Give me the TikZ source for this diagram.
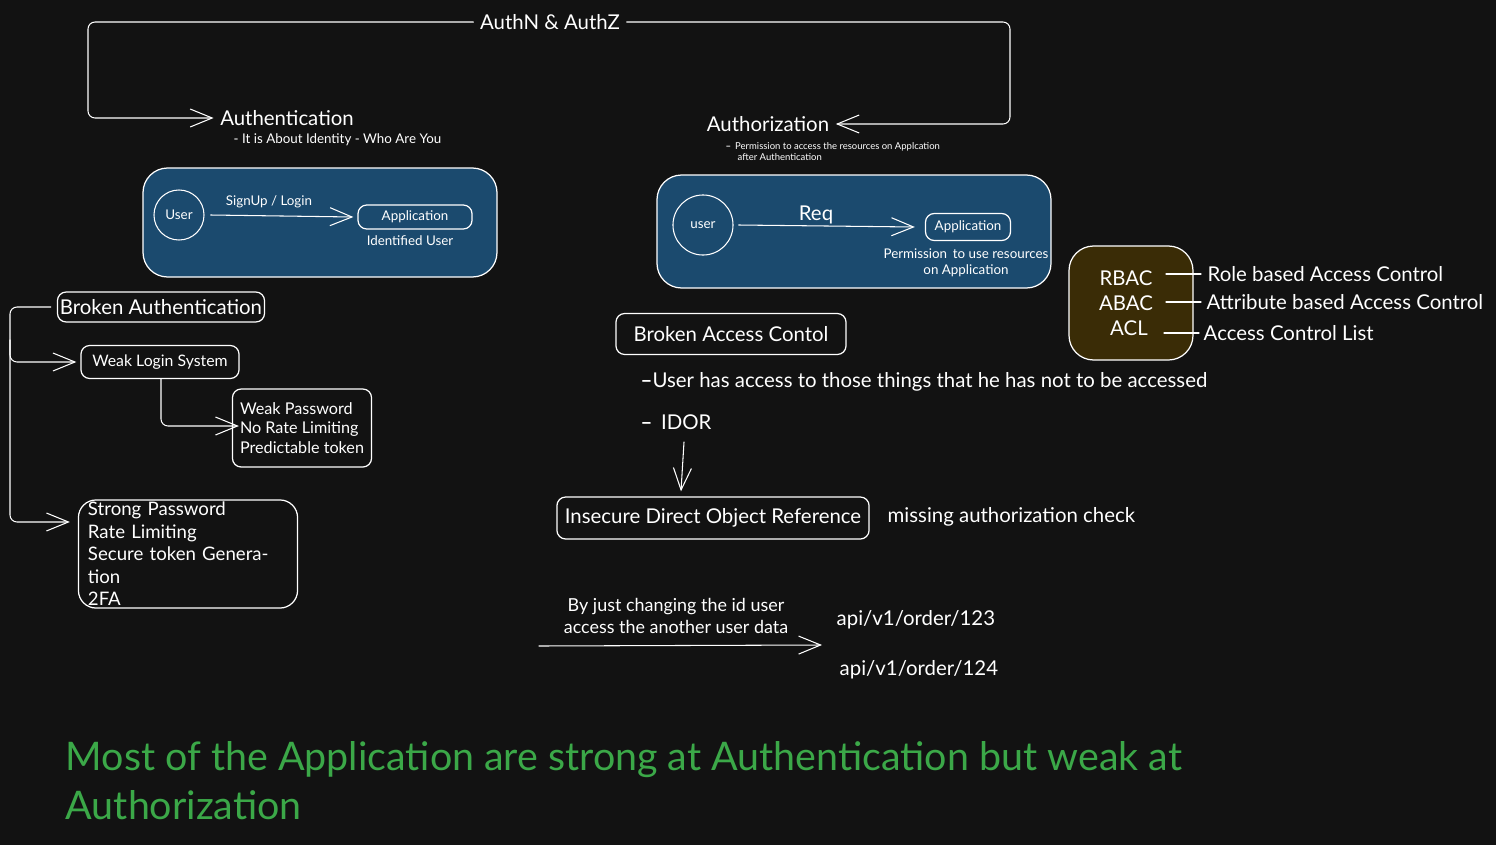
\documentclass[tikz,border=0pt]{standalone}
\usepackage{fontspec}
\setmainfont{Lato}
\usetikzlibrary{arrows.meta}
\definecolor{bg}{HTML}{121212}
\definecolor{bluebox}{HTML}{1B4A6E}
\definecolor{brownbox}{HTML}{3A2C06}
\definecolor{greentxt}{HTML}{3BA848}
\tikzset{
  txt/.style={text=white,inner sep=0pt,font=\fontsize{5.5pt}{6.6pt}\selectfont},
  big/.style={txt,font=\fontsize{5.8pt}{6.8pt}\selectfont},
  small/.style={txt,font=\fontsize{3.8pt}{4.7pt}\selectfont},
  tiny/.style={txt,font=\fontsize{2.7pt}{3.2pt}\selectfont},
  wbox/.style={draw=white,line width=0.35pt,rounded corners=2.5pt},
  wire/.style={draw=white,line width=0.3pt,rounded corners=2pt},
  arr/.style={wire,-{Straight Barb[length=2.2mm,width=1.8mm]}},
}
\begin{document}
\begin{tikzpicture}[x=0.01cm,y=-0.01cm,line cap=round,line join=round]
\fill[bg] (0,0) rectangle (1496,845);
\useasboundingbox (0,0) rectangle (1496,845);
% title and top bracket
\node[big] (authz) at (550,22) {AuthN \& AuthZ};
\node[big] (authn) at (287,118) {Authentication};
\node[small,anchor=west] at (233,140) {- It is About Identity - Who Are You};
\node[big] (autho) at (768,124) {Authorization};
\node[tiny,anchor=north west,align=left] at (725,142) {\textbf{–}\, Permission to access the resources on Applcation\\\hspace*{1.2mm}after Authentication};
\draw[arr] ([xshift=-0.6mm]authz.west) -- (88,22) -- (88,118) -- ([xshift=-0.6mm]authn.west);
\draw[arr] ([xshift=0.6mm]authz.east) -- (1010,22) -- (1010,124) -- ([xshift=0.6mm]autho.east);
% authentication panel
\draw[fill=bluebox,draw=white,line width=0.35pt,rounded corners=7pt] (143,168) rectangle (497,277);
\node[small,draw=white,line width=0.3pt,circle,minimum size=0.5cm] (user1) at (179,215) {User};
\node[small,wbox,minimum width=1.14cm,minimum height=0.24cm] (app1) at (415,217) {Application};
\draw[arr] ([xshift=0.6mm]user1.east) -- ([xshift=-0.4mm]app1.west);
\node[small] at (269,202) {SignUp / Login};
\node[small] at (410,241) {Identified User};
% authorization panel
\draw[fill=bluebox,draw=white,line width=0.35pt,rounded corners=7pt] (657,175) rectangle (1051,288);
\node[small,draw=white,line width=0.3pt,circle,minimum size=0.6cm] (user2) at (703,225) {user};
\node[small,wbox,minimum width=0.85cm,minimum height=0.27cm] (app2) at (968,227) {Application};
\draw[arr] ([xshift=0.5mm]user2.east) -- ([xshift=-1mm]app2.west);
\node[big] at (816,215) {Req};
\node[small,align=center] at (966,263) {Permission\, to use resources\\on Application};
% access control models
\draw[fill=brownbox,draw=white,line width=0.35pt,rounded corners=7pt] (1069,246) rectangle (1193,360);
\node[big] (rbac) at (1126,278) {RBAC};
\node[big] (abac) at (1126,303) {ABAC};
\node[big] (acl) at (1129,328) {ACL};
\node[big,anchor=west] (rbacl) at (1207,274) {Role based Access Control};
\node[big,anchor=west] (abacl) at (1206,302) {Attribute based Access Control};
\node[big,anchor=west] (acll) at (1203,333) {Access Control List};
\draw[wire] (1166,274) -- ([xshift=-0.6mm]rbacl.west);
\draw[wire] (1166,302) -- ([xshift=-0.5mm]abacl.west);
\draw[wire] (1164,333) -- ([xshift=-0.4mm]acll.west);
% broken authentication
\node[big,wbox,minimum width=2.07cm,minimum height=0.30cm] (brokenauth) at (161,307) {Broken Authentication};
\node[small,wbox,minimum width=1.58cm,minimum height=0.33cm,font=\fontsize{4.5pt}{5pt}\selectfont] (weaklogin) at (160,362) {Weak Login System};
\node[txt,wbox,minimum width=1.39cm,minimum height=0.78cm,align=left,font=\fontsize{4.6pt}{5.6pt}\selectfont] (weakpw) at (302,428) {Weak Password\\No Rate Limiting\\Predictable token};
\node[big,wbox,minimum width=2.19cm,minimum height=1.08cm,align=left,text width=2cm,rounded corners=5pt,font=\fontsize{5.3pt}{6.4pt}\selectfont] (strong) at (188,554) {Strong Password\\Rate Limiting\\Secure token Generation\\2FA};
\draw[arr] ([xshift=-0.6mm]brokenauth.west) -- (10,307) -- (10,362) -- ([xshift=-0.4mm]weaklogin.west);
\draw[arr] (10,340) -- (10,522) -- ([xshift=-0.8mm,yshift=0.32cm]strong.west);
\draw[arr] (161,379) -- (161,426) -- ([xshift=0.7mm,yshift=0.02cm]weakpw.west);
% broken access control
\node[big,wbox,minimum width=2.30cm,minimum height=0.41cm] (brokenac) at (731,334) {Broken Access Contol};
\node[big,anchor=west] at (640,382) {\textbf{–}User has access to those things that he has not to be accessed};
\node[big,anchor=west] (idor) at (640,422) {\textbf{–}\, IDOR};
\node[big,wbox,minimum width=3.12cm,minimum height=0.42cm] (idorbox) at (713,518) {Insecure Direct Object Reference};
\draw[arr] (684,442) -- ([xshift=-0.32cm,yshift=0.05cm]idorbox.north);
\node[big,anchor=west] at (887,517) {missing authorization check};
\node[txt,align=center,font=\fontsize{5.1pt}{6.3pt}\selectfont] (change) at (676,616) {By just changing the id user\\access the another user data};
\coordinate (chstart) at (539,646);
\coordinate (chend) at (822,645);
\draw[arr] (chstart) -- (chend);
\node[big,anchor=west] at (836,620) {api/v1/order/123};
\node[big,anchor=west] at (839,670) {api/v1/order/124};
% conclusion
\node[anchor=north west,inner sep=0pt,text=greentxt,align=left,font=\fontsize{11.2pt}{14pt}\selectfont] at (65,741) {Most of the Application are strong at Authentication but weak at\\Authorization};
\end{tikzpicture}
\end{document}
